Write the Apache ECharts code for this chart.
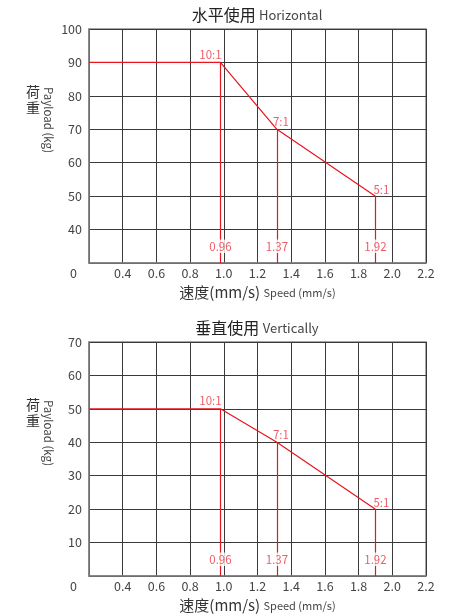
<!DOCTYPE html>
<html>
<head>
<meta charset="utf-8">
<script src="https://cdn.jsdelivr.net/npm/echarts@6/dist/echarts.min.js"></script>
<style>
  html, body { margin: 0; padding: 0; background: #fff; }
  #chart { width: 457px; height: 616px; }
</style>
</head>
<body>
<div id="chart"></div>
<script>
// speed axis (mm/s)
const speedMin = 0.2
const speedMax = 2.2
const speedStep = 0.2

// gear ratio points
const ratioLabels = ['10:1', '7:1', '5:1']
const speedLabels = ['0.96', '1.37', '1.92']
const speedAt = [0.98, 1.315, 1.9]

// payload (kg)
const horizontalLoad = [90, 70, 50]
const verticalLoad = [50, 40, 20]
const horizontalRange = [30, 100]
const verticalRange = [0, 70]

const titles = [
  { cn: '水平使用', en: 'Horizontal' },
  { cn: '垂直使用', en: 'Vertically' },
]

const FONT = 'Noto Sans CJK SC'
const RED = '#e8141e'
const RED_TEXT = '#e8343f'
const TEXT = '#444'

const grids = [
  { left: 89, right: 31, top: 29, height: 234 },
  { left: 89, right: 31, top: 342, height: 234 },
]

// label offsets for the ratio tags, per point
const ratioOffsets = [[-10, 0], [4, 0], [6, 1]]

function buildSeries(idx, loads, range) {
  const lineData = [[speedMin, loads[0]]].concat(speedAt.map((s, i) => [s, loads[i]]))
  const drops = speedAt.map((s, i) => [
    { coord: [s, range[0]] },
    { coord: [s, loads[i]] },
  ])
  return [
    {
      type: 'line',
      xAxisIndex: idx,
      yAxisIndex: idx,
      data: lineData,
      symbol: 'none',
      z: 3,
      lineStyle: { color: RED, width: 1.2 },
      markLine: {
        silent: true,
        symbol: 'none',
        label: { show: false },
        lineStyle: { color: RED, width: 1.2, type: 'solid' },
        data: drops,
        z: 3,
      },
    },
    {
      type: 'scatter',
      xAxisIndex: idx,
      yAxisIndex: idx,
      symbolSize: 0,
      z: 5,
      data: speedAt.map((s, i) => ({
        value: [s, loads[i]],
        label: { offset: ratioOffsets[i] },
      })),
      label: {
        show: true,
        position: 'top',
        distance: 2,
        color: RED_TEXT,
        fontSize: 11.5,
        fontFamily: FONT,
        formatter: p => ratioLabels[p.dataIndex],
      },
    },
    {
      type: 'scatter',
      xAxisIndex: idx,
      yAxisIndex: idx,
      symbolSize: 0,
      z: 6,
      data: speedAt.map(s => [s, range[0] + 5]),
      label: {
        show: true,
        position: 'inside',
        color: RED_TEXT,
        fontSize: 11.5,
        fontFamily: FONT,
        backgroundColor: '#fff',
        padding: [1, 1],
        formatter: p => speedLabels[p.dataIndex],
      },
    },
  ]
}

function xAxisFor(idx) {
  return {
    type: 'value',
    gridIndex: idx,
    min: speedMin,
    max: speedMax,
    interval: speedStep,
    name: '{a|速度(mm/s)} {b|Speed (mm/s)}',
    nameLocation: 'middle',
    nameGap: 22,
    nameTextStyle: {
      rich: {
        a: { fontSize: 15, color: '#333', fontFamily: FONT },
        b: { fontSize: 11, color: '#444', fontFamily: FONT },
      },
    },
    axisLine: { lineStyle: { color: '#808080', width: 1.5 } },
    axisTick: { show: false },
    splitLine: { show: true, lineStyle: { color: '#3a3a3a', width: 1 } },
    axisLabel: {
      margin: 4,
      fontSize: 12.5,
      color: TEXT,
      fontFamily: FONT,
      formatter: v => (Math.abs(v - speedMin) < 1e-6 ? '{z|0}' : v.toFixed(1)),
      rich: {
        z: { fontSize: 12.5, color: TEXT, fontFamily: FONT, padding: [0, 31, 0, 0] },
      },
    },
  }
}

function yAxisFor(idx, range) {
  return {
    type: 'value',
    gridIndex: idx,
    min: range[0],
    max: range[1],
    interval: 10,
    axisLine: { show: true, lineStyle: { color: '#808080', width: 1.5 } },
    axisTick: { show: false },
    splitLine: { show: true, lineStyle: { color: '#3a3a3a', width: 1 } },
    axisLabel: {
      margin: 7,
      fontSize: 12.5,
      color: TEXT,
      fontFamily: FONT,
      showMinLabel: false,
    },
  }
}

function sideLabels(idx) {
  const top = grids[idx].top
  return [
    {
      type: 'text',
      style: {
        text: '荷\n重',
        x: 33,
        y: top + 71,
        align: 'center',
        verticalAlign: 'middle',
        fontSize: 14,
        lineHeight: 16,
        fill: '#333',
        fontFamily: FONT,
      },
    },
    {
      type: 'text',
      x: 48,
      y: top + 91,
      rotation: -Math.PI / 2,
      style: {
        text: 'Payload (kg)',
        x: 0,
        y: 0,
        align: 'center',
        verticalAlign: 'middle',
        fontSize: 11.5,
        fill: '#444',
        fontFamily: FONT,
      },
    },
    {
      type: 'text',
      style: {
        text: '{a|' + titles[idx].cn + '} {b|' + titles[idx].en + '}',
        x: 257,
        y: top - 14,
        align: 'center',
        verticalAlign: 'middle',
        rich: {
          a: { fontSize: 16, fill: '#222', fontFamily: FONT },
          b: { fontSize: 13, fill: '#444', fontFamily: FONT },
        },
      },
    },
  ]
}

const chart = echarts.init(document.getElementById('chart'))
chart.setOption({
  backgroundColor: '#fff',
  animation: false,
  grid: grids.map(g => Object.assign({ show: true, borderColor: '#8a8a8a', borderWidth: 1.5 }, g)),
  xAxis: [xAxisFor(0), xAxisFor(1)],
  yAxis: [yAxisFor(0, horizontalRange), yAxisFor(1, verticalRange)],
  series: buildSeries(0, horizontalLoad, horizontalRange).concat(
    buildSeries(1, verticalLoad, verticalRange)
  ),
  graphic: sideLabels(0).concat(sideLabels(1)),
})
</script>
</body>
</html>
